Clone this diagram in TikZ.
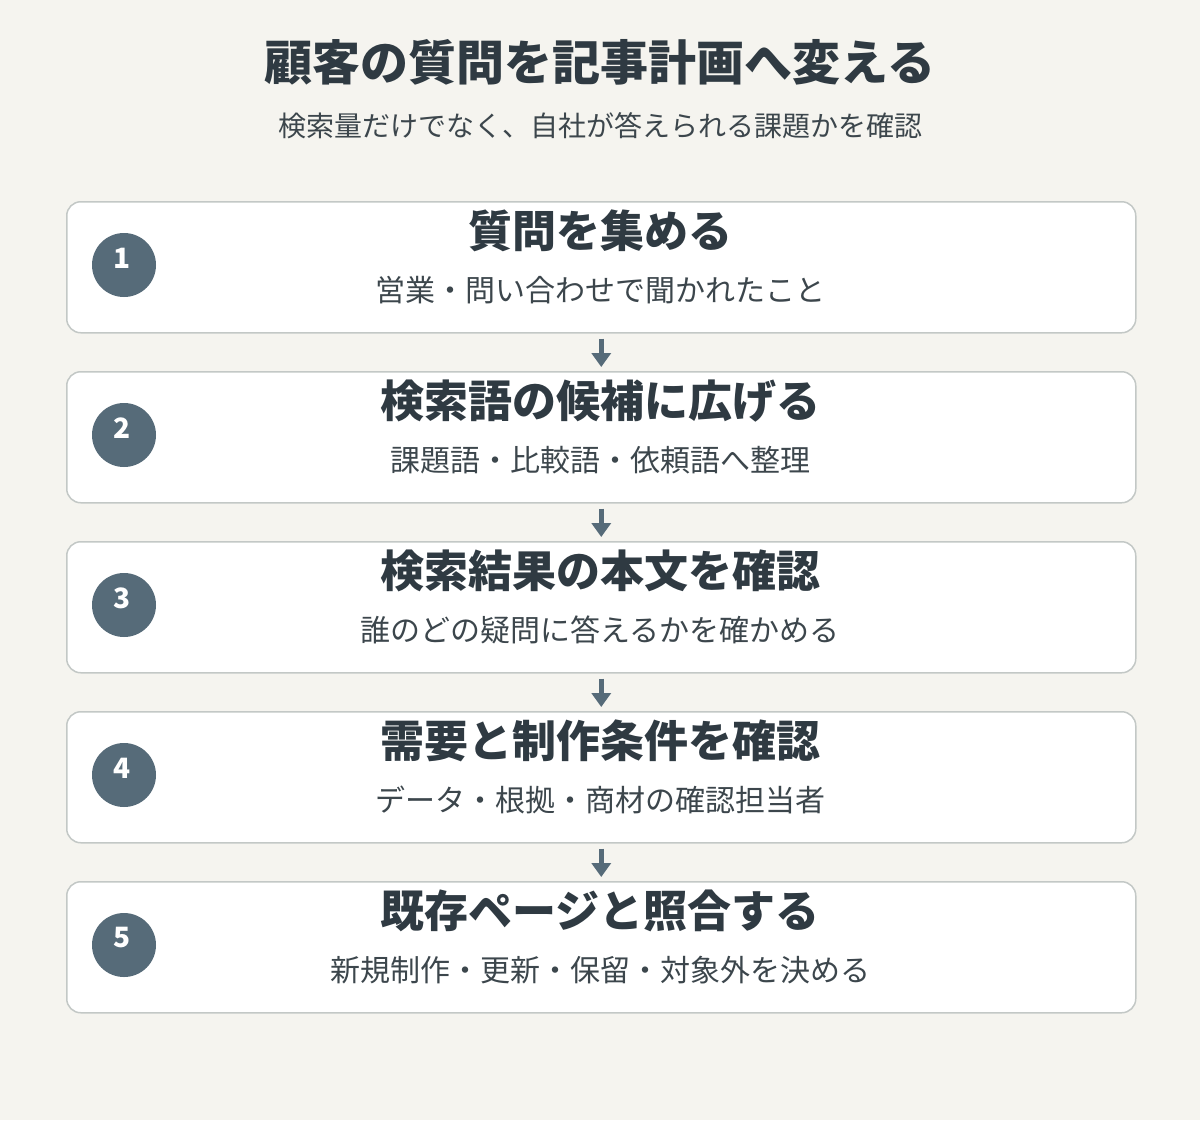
\documentclass[tikz,border=0pt]{standalone}
\usepackage{fontspec}
\setmainfont{Noto Sans CJK JP}
\usetikzlibrary{arrows.meta}
\definecolor{bgc}{HTML}{F5F4EF}
\definecolor{boxline}{HTML}{C3C8C6}
\definecolor{accent}{HTML}{566B79}
\definecolor{titlec}{HTML}{2F3A42}
\definecolor{subc}{HTML}{3C464C}
\begin{document}
\begin{tikzpicture}[x=1pt,y=-1pt,
  stepbox/.style={draw=boxline,line width=1.5pt,fill=white,rounded corners=14pt},
  numdot/.style={circle,fill=accent,minimum size=64pt,inner sep=0pt},
  numtext/.style={text=white,font=\fontsize{28}{30}\selectfont\bfseries},
  headtext/.style={text=titlec,font=\fontsize{44}{48}\selectfont\bfseries,inner sep=0pt},
  subtext/.style={text=subc,font=\fontsize{30}{34}\selectfont,inner sep=0pt},
  flow/.style={draw=accent,line width=4.5pt,-{Triangle[width=19pt,length=14pt]}}
]
\fill[bgc] (0,0) rectangle (1200,1120);
\useasboundingbox (0,0) rectangle (1200,1120);
\node[text=titlec,font=\fontsize{48}{52}\selectfont\bfseries,inner sep=0pt] (title) at (600,62) {顧客の質問を記事計画へ変える};
\node[text=subc,font=\fontsize{28}{32}\selectfont,inner sep=0pt] (subtitle) at (600,126) {検索量だけでなく、自社が答えられる課題かを確認};
\foreach \i/\h/\s in {
 1/質問を集める/営業・問い合わせで聞かれたこと,
 2/検索語の候補に広げる/課題語・比較語・依頼語へ整理,
 3/検索結果の本文を確認/誰のどの疑問に答えるかを確かめる,
 4/需要と制作条件を確認/データ・根拠・商材の確認担当者,
 5/既存ページと照合する/新規制作・更新・保留・対象外を決める}{
  \pgfmathsetmacro{\t}{201+170*(\i-1)}
  \node[stepbox,minimum width=1069pt,minimum height=131pt,anchor=north west,inner sep=0pt] (box\i) at (66,\t) {};
  \node[numdot] (dot\i) at (124,\t+64) {};
  \node[numtext] (num\i) at (122,\t+57) {\i};
  \node[headtext] (head\i) at (600,\t+30) {\h};
  \node[subtext] (sub\i) at (600,\t+89) {\s};
}
\foreach \i [evaluate=\i as \j using int(\i+1)] in {1,...,4}{
  \draw[flow] ([yshift=-5pt]box\i.south) -- ([yshift=4pt]box\j.north);
}
\end{tikzpicture}
\end{document}
